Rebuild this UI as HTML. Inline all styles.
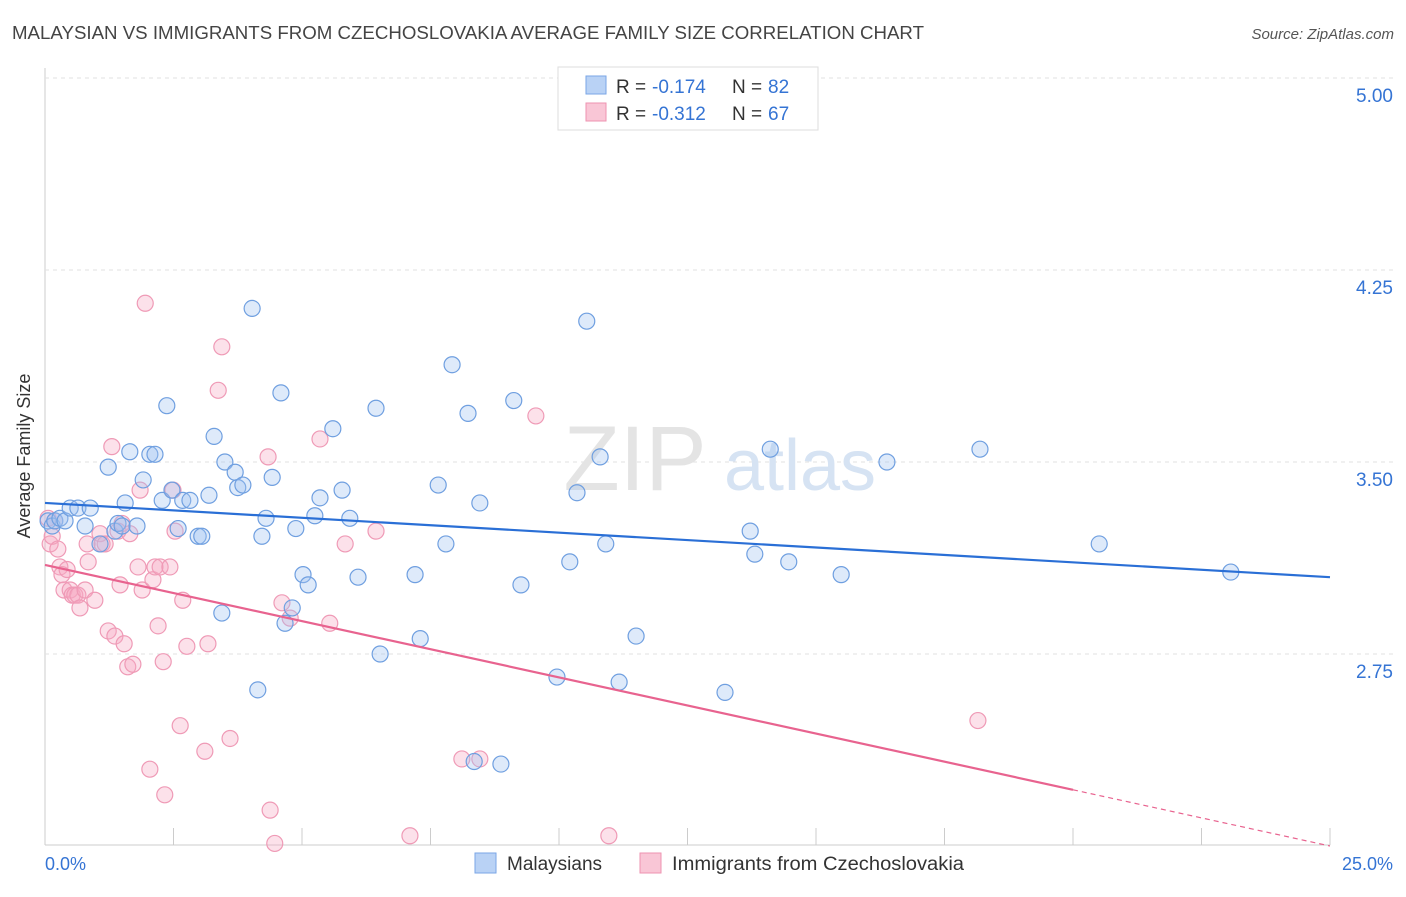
<!DOCTYPE html>
<html><head><meta charset="utf-8"><style>
body{margin:0;background:#fff;font-family:"Liberation Sans",sans-serif;}
svg text{font-family:"Liberation Sans",sans-serif;}
</style></head><body>
<svg id="chart" width="1406" height="892" xmlns="http://www.w3.org/2000/svg">
<text x="12" y="39" font-size="18" fill="#444" textLength="912" lengthAdjust="spacingAndGlyphs">MALAYSIAN VS IMMIGRANTS FROM CZECHOSLOVAKIA AVERAGE FAMILY SIZE CORRELATION CHART</text>
<text x="1394" y="39" font-size="15" fill="#555" font-style="italic" text-anchor="end">Source: ZipAtlas.com</text>
<text x="30" y="456" font-size="18" fill="#333" text-anchor="middle" transform="rotate(-90 30 456)">Average Family Size</text>
<g id="grid"></g>
<g><text x="635" y="490" font-size="92" fill="#e4e4e4" text-anchor="middle" font-family="Liberation Serif">ZIP</text><text x="800" y="490" font-size="72" fill="#d6e3f3" text-anchor="middle">atlas</text></g>
<g id="marks"></g>
<g>
<rect x="558" y="67" width="260" height="63" fill="#fff" stroke="#ddd"/>
<rect x="586" y="76" width="20" height="18" fill="#b9d2f5" stroke="#7aa6e6"/>
<rect x="586" y="103" width="20" height="18" fill="#f9c6d6" stroke="#ee93b0"/>
<text x="616" y="93" font-size="19" fill="#333">R =</text><text x="652" y="93" font-size="19" fill="#3574d4">-0.174</text><text x="732" y="93" font-size="19" fill="#333">N =</text><text x="768" y="93" font-size="19" fill="#3574d4">82</text>
<text x="616" y="120" font-size="19" fill="#333">R =</text><text x="652" y="120" font-size="19" fill="#3574d4">-0.312</text><text x="732" y="120" font-size="19" fill="#333">N =</text><text x="768" y="120" font-size="19" fill="#3574d4">67</text>
</g>
<g>
<rect x="475" y="853" width="21" height="20" fill="#b9d2f5" stroke="#7aa6e6"/>
<text x="507" y="870" font-size="19" fill="#333">Malaysians</text>
<rect x="640" y="853" width="21" height="20" fill="#f9c6d6" stroke="#ee93b0"/>
<text x="672" y="870" font-size="19" fill="#333" textLength="292" lengthAdjust="spacingAndGlyphs">Immigrants from Czechoslovakia</text>
</g>
<text x="45" y="870" font-size="18" fill="#3574d4">0.0%</text>
<text x="1393" y="870" font-size="18" fill="#3574d4" text-anchor="end">25.0%</text>
</svg>
<script>
const yTicks=[5.00,4.25,3.50,2.75];
const blueX=[.06,.14,.19,.29,.39,.49,.64,.78,.88,1.07,1.23,1.36,1.42,1.50,1.56,1.65,1.79,1.91,2.04,2.14,2.28,2.37,2.47,2.59,2.68,2.82,2.98,3.05,3.19,3.29,3.44,3.50,3.70,3.75,3.85,4.03,4.14,4.22,4.30,4.42,4.59,4.67,4.81,4.88,5.02,5.12,5.25,5.35,5.60,5.78,5.93,6.09,6.44,6.52,7.20,7.30,7.65,7.80,7.92,8.23,8.35,8.46,8.87,9.12,9.26,9.96,10.21,10.35,10.54,10.80,10.91,11.17,11.50,13.23,13.72,13.81,14.11,14.47,15.49,16.38,18.19,20.51,23.07];
const blueY=[3.27,3.25,3.27,3.28,3.27,3.32,3.32,3.25,3.32,3.18,3.48,3.23,3.26,3.25,3.34,3.54,3.25,3.43,3.53,3.53,3.35,3.72,3.39,3.24,3.35,3.35,3.21,3.21,3.37,3.60,2.91,3.50,3.46,3.40,3.41,4.10,2.61,3.21,3.28,3.44,3.77,2.87,2.93,3.24,3.06,3.02,3.29,3.36,3.63,3.39,3.28,3.05,3.71,2.75,3.06,2.81,3.41,3.18,3.88,3.69,2.33,3.34,2.32,3.74,3.02,2.66,3.11,3.38,4.05,3.52,3.18,2.64,2.82,2.60,3.23,3.14,3.55,3.11,3.06,3.50,3.55,3.18,3.07];
const pinkX=[.06,.10,.14,.19,.25,.29,.33,.37,.43,.49,.53,.58,.64,.68,.78,.82,.84,.97,1.07,1.11,1.17,1.23,1.30,1.36,1.42,1.46,1.50,1.54,1.61,1.65,1.71,1.81,1.85,1.89,1.95,2.04,2.10,2.14,2.20,2.24,2.30,2.33,2.43,2.49,2.53,2.63,2.68,2.76,3.11,3.17,3.37,3.44,3.60,4.34,4.38,4.47,4.61,4.77,5.35,5.54,5.84,6.44,7.10,8.11,8.46,9.55,10.97,18.15];
const pinkY=[3.28,3.18,3.21,3.27,3.16,3.09,3.06,3.00,3.08,3.00,2.98,2.98,2.98,2.93,3.00,3.18,3.11,2.96,3.22,3.18,3.18,2.84,3.56,2.82,3.23,3.02,3.26,2.79,2.70,3.22,2.71,3.09,3.39,3.00,4.12,2.30,3.04,3.09,2.86,3.09,2.72,2.20,3.09,3.39,3.23,2.47,2.96,2.78,2.37,2.79,3.78,3.95,2.42,3.52,2.14,2.01,2.95,2.89,3.59,2.87,3.18,3.23,2.04,2.34,2.34,3.68,2.04,2.49];
const blueTrend=[3.34,3.05];
const pinkTrend=[3.098,2.0];
const ns="http://www.w3.org/2000/svg";
const X=v=>45+v*51.4, Y=v=>462-(v-3.5)*256;
const grid=document.getElementById('grid'), marks=document.getElementById('marks');
function mk(tag,at,parent){const e=document.createElementNS(ns,tag);for(const k in at)e.setAttribute(k,at[k]);parent.appendChild(e);return e;}
mk('line',{x1:45,y1:68,x2:45,y2:845,stroke:'#ccc'},grid);
mk('line',{x1:45,y1:845,x2:1330,y2:845,stroke:'#ccc'},grid);
for(let i=0;i<=10;i++){const l=mk('line',{x1:X(i*2.5),y1:828,x2:X(i*2.5),y2:845,stroke:'#ccc'},grid);

}
yTicks.forEach(t=>{const l=mk('line',{x1:45,y1:Y(t),x2:1393,y2:Y(t),stroke:'#e2e2e2','stroke-dasharray':'4,4'},grid);


const tx=mk('text',{x:1393,y:Y(t)+24,'font-size':19,fill:'#3574d4','text-anchor':'end'},grid);tx.textContent=t.toFixed(2);

});
pinkX.forEach((x,i)=>{const c=mk('circle',{cx:X(x),cy:Y(pinkY[i]),r:8,fill:'rgba(246,170,196,0.35)',stroke:'#ef9ab6','stroke-width':1.2},marks);

});
blueX.forEach((x,i)=>{const c=mk('circle',{cx:X(x),cy:Y(blueY[i]),r:8,fill:'rgba(160,196,240,0.35)',stroke:'#6f9fe0','stroke-width':1.2},marks);

});
const bl=mk('line',{x1:X(0),y1:Y(blueTrend[0]),x2:X(25),y2:Y(blueTrend[1]),stroke:'#2a6fd6','stroke-width':2.2},marks);


const py=x=>pinkTrend[0]+(pinkTrend[1]-pinkTrend[0])*x/25;
const pl=mk('line',{x1:X(0),y1:Y(py(0)),x2:X(20),y2:Y(py(20)),stroke:'#e8638f','stroke-width':2.2},marks);


const pd=mk('line',{x1:X(20),y1:Y(py(20)),x2:X(25),y2:Y(py(25)),stroke:'#e8638f','stroke-width':1.2,'stroke-dasharray':'5,4'},marks);


</script>
</body></html>
